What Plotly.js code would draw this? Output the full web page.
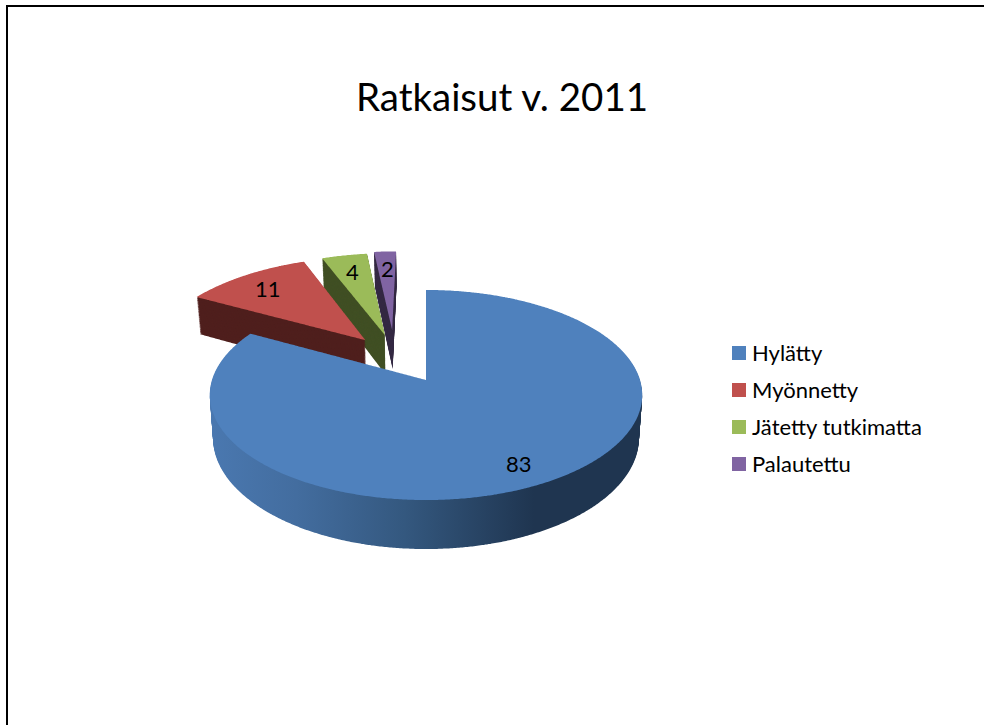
<!DOCTYPE html>
<html><head><meta charset="utf-8">
<script src="https://cdn.plot.ly/plotly-3.0.1.min.js"></script>
<style>html,body{margin:0;padding:0;background:#fff;overflow:hidden}#chart{width:984px;height:725px}</style>
</head><body><div id="chart"></div>
<script>
var categories = ["Hylätty", "Myönnetty", "Jätetty tutkimatta", "Palautettu"];
var values = [83, 11, 4, 2];
var chartTitle = "Ratkaisut v. 2011";
var topColors = ["#4f81bd", "#c0504d", "#9bbb59", "#8064a2"];
var wallColors = ["url(#blueWall)", "#4f1f1d", "#404f24", "#352a44"];
var FONT = "Lato, Carlito, 'Open Sans', sans-serif";

// explosion of each slice in pie-radius units (right, up), and its apparent size
var explode = [[0, 0], [-0.30, 0.41], [-0.205, 0.466], [-0.17, 0.522]];
var sliceScale = [1, 1.04, 1.03, 1.0];
// 3D look of the pie: perspective projection of the flat plotly pie
var view = {cx: 426, near: 380, a: -48.6, c: 1 / 7, sx: 214, depth: 42, shrink: 0.015};
var labelPos = [[519, 463], [268, 288], [352, 271], [387, 268]];
var legendRows = [353, 390, 427, 464], legendIconX = 739, legendTextX = 752;

var W = 984, H = 725;
var annotations = values.map(function (v, i) {
  return {text: String(v), xref: "paper", yref: "paper", x: labelPos[i][0] / W, y: 1 - labelPos[i][1] / H,
    showarrow: false, xanchor: "center", yanchor: "middle", font: {family: FONT, size: 22, color: "#000"}};
});
var trace = {type: "pie", labels: categories, values: values, sort: false, direction: "clockwise", rotation: 0,
  textinfo: "none", hoverinfo: "skip", domain: {x: [0.2, 0.66], y: [0.2, 0.8]},
  marker: {colors: topColors, line: {width: 0}}};
var layout = {width: W, height: H, margin: {l: 0, r: 0, t: 0, b: 0}, paper_bgcolor: "#fff",
  title: {text: chartTitle, font: {family: FONT, size: 38.5, color: "#000"}, x: 502 / W, xanchor: "center", y: 1 - 98 / H, yanchor: "middle"},
  showlegend: true, legend: {x: 0.74, y: 0.6, font: {family: FONT, size: 22, color: "#000"}, bgcolor: "rgba(0,0,0,0)"},
  annotations: annotations,
  shapes: [
    {type: "line", xref: "paper", yref: "paper", x0: 7 / W, x1: 7 / W, y0: 0, y1: 1 - 5 / H, line: {color: "#000", width: 2}},
    {type: "line", xref: "paper", yref: "paper", x0: 6 / W, x1: 1, y0: 1 - 6 / H, y1: 1 - 6 / H, line: {color: "#000", width: 2}}
  ]};

function project(u, v, t) {
  var w = 1 + view.c * v, y = (view.a * v + view.near) / w + t * view.depth / w;
  return [view.cx + (1 - t * view.shrink) * view.sx * u / w, y];
}
function pathFor(pts, t) {
  return pts.map(function (p, i) {
    var q = project(p[0], p[1], t);
    return (i ? "L" : "M") + q[0].toFixed(1) + "," + q[1].toFixed(1);
  }).join("") + "Z";
}
Plotly.newPlot("chart", [trace], layout, {staticPlot: true}).then(function (gd) {
  var NS = "http://www.w3.org/2000/svg";
  var svg = gd.querySelector("svg.main-svg");
  var defs = svg.querySelector("defs");
  var grad = document.createElementNS(NS, "linearGradient");
  grad.setAttribute("id", "blueWall");
  grad.setAttribute("gradientUnits", "userSpaceOnUse");
  grad.setAttribute("x1", 210); grad.setAttribute("x2", 642); grad.setAttribute("y1", 0); grad.setAttribute("y2", 0);
  [[0, "#4a78b0"], [0.2, "#436d9f"], [0.45, "#34587f"], [0.75, "#1f3550"], [1, "#1f3550"]].forEach(function (s) {
    var e = document.createElementNS(NS, "stop");
    e.setAttribute("offset", s[0]); e.setAttribute("stop-color", s[1]); grad.appendChild(e);
  });
  defs.appendChild(grad);

  var cd0 = gd.calcdata[0][0];
  var slices = Array.prototype.slice.call(gd.querySelectorAll(".pielayer g.slice"));
  var parent = slices[0].parentNode;
  slices.map(function (g, i) { return [g, i]; }).reverse().forEach(function (item) {
    var g = item[0], i = item[1];
    var path = g.querySelector("path.surface");
    var len = path.getTotalLength(), pts = [], step = 1.5, s = sliceScale[i];
    for (var l = 0; l <= len; l += step) {
      var p = path.getPointAtLength(l);
      pts.push([s * (p.x - cd0.cx) / cd0.r + explode[i][0], s * (cd0.cy - p.y) / cd0.r + explode[i][1]]);
    }
    pts.unshift([explode[i][0], explode[i][1]]);
    for (var k = view.depth; k >= 1; k--) {
      var wall = path.cloneNode(false);
      wall.setAttribute("class", "wall");
      wall.setAttribute("d", pathFor(pts, k / view.depth));
      wall.style.fill = wallColors[i];
      wall.style.stroke = "none";
      wall.style.strokeWidth = 0;
      g.insertBefore(wall, path);
    }
    path.setAttribute("d", pathFor(pts, 0));
    parent.appendChild(g);
  });

  // legend rows spaced as in the reference
  var legend = gd.querySelector("g.legend");
  legend.setAttribute("transform", "translate(0,0)");
  var bg = legend.querySelector("rect.bg"); if (bg) bg.remove();
  legend.querySelectorAll("[clip-path]").forEach(function (n) { n.removeAttribute("clip-path"); });
  var sb = legend.querySelector("g.scrollbox"); if (sb) { sb.removeAttribute("transform"); sb.style.clipPath = "none"; }
  var rows = legend.querySelectorAll("g.traces");
  rows.forEach(function (row, i) {
    row.setAttribute("transform", "translate(0," + legendRows[i] + ")");
    var txt = row.querySelector("text.legendtext");
    txt.setAttribute("x", legendTextX); txt.setAttribute("y", 8);
    txt.setAttribute("text-anchor", "start");
    var pts = row.querySelector("g.legendpoints") ;
    pts.setAttribute("transform", "translate(" + legendIconX + ",0) scale(1.17)");
    pts.querySelectorAll("path").forEach(function (n) { n.removeAttribute("transform"); });
  });
});
</script></body></html>
